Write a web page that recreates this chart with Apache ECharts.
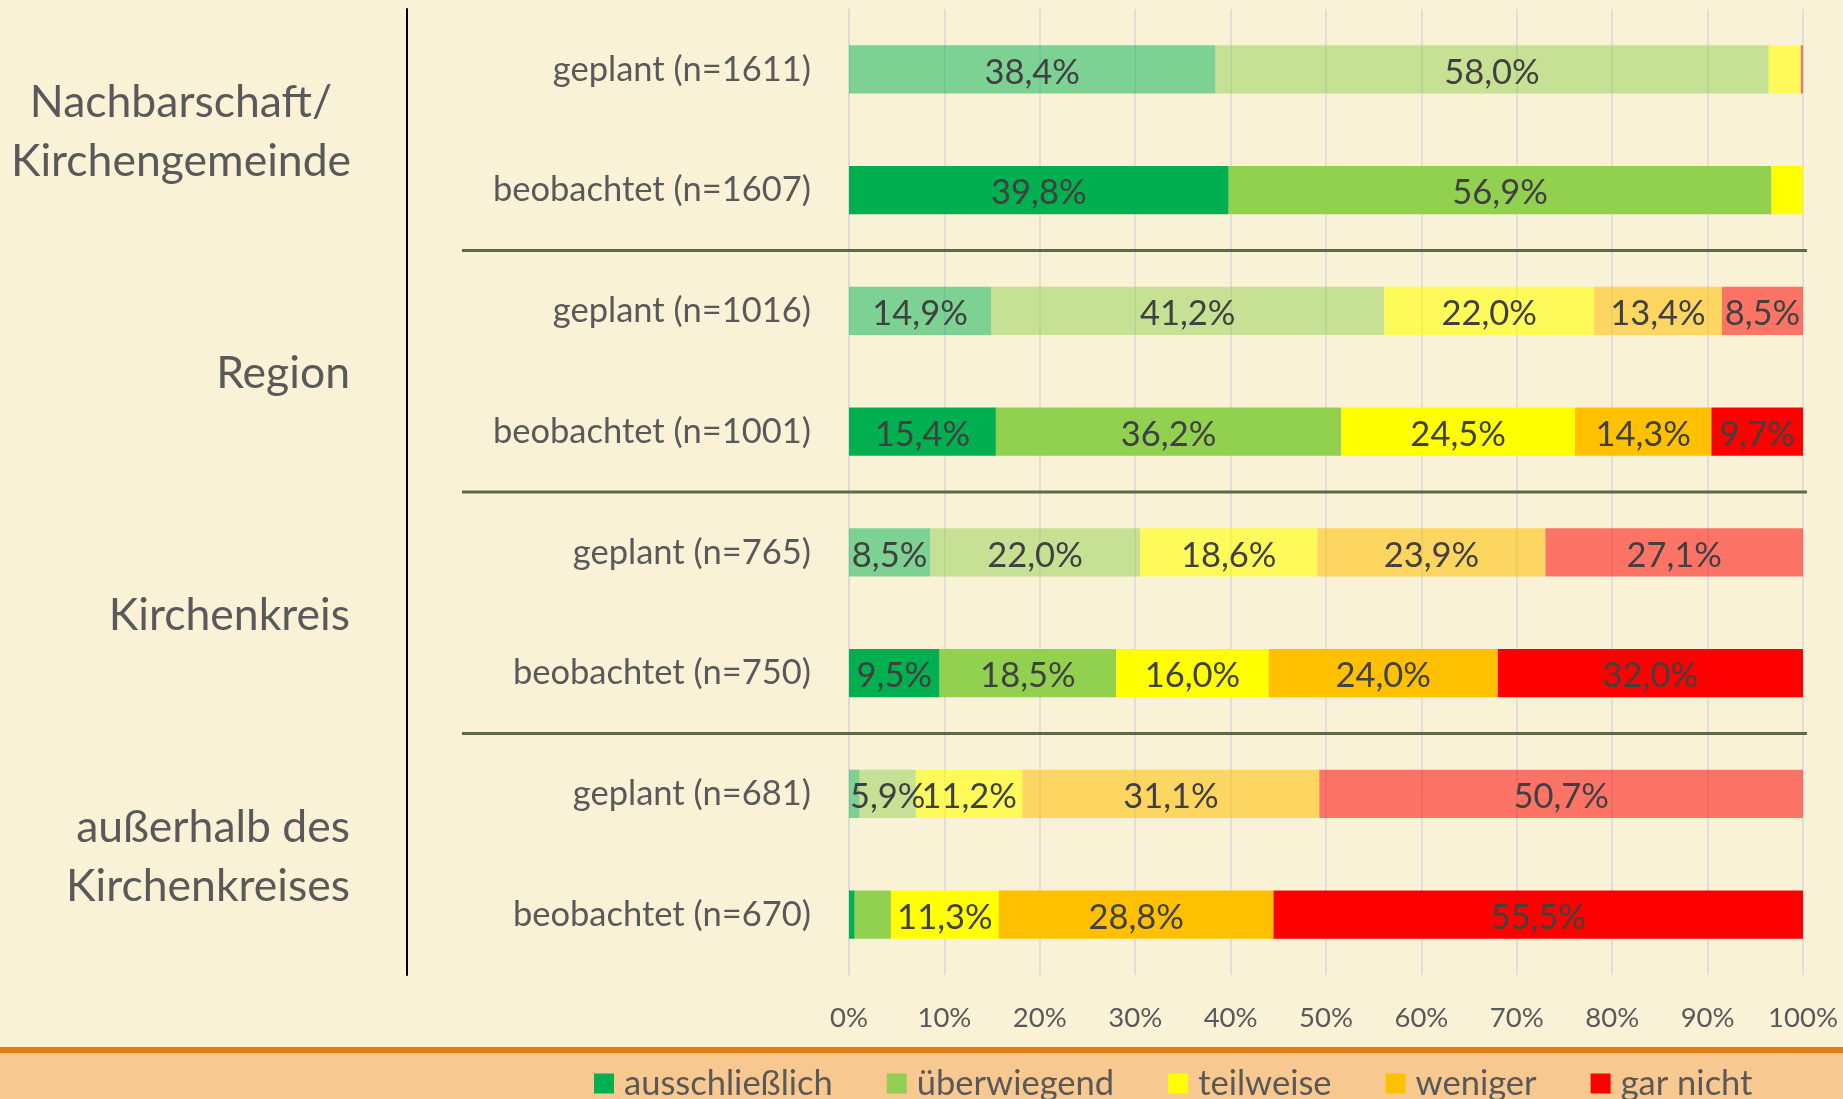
<!DOCTYPE html>
<html>
<head>
<meta charset="utf-8">
<script src="https://cdn.jsdelivr.net/npm/echarts@6/dist/echarts.min.js"></script>
<style>
  html, body { margin: 0; padding: 0; background: #faf2d7; }
  #chart { width: 1843px; height: 1099px; }
</style>
</head>
<body>
<div id="chart"></div>
<script>
var chartDom = document.getElementById('chart');
var myChart = echarts.init(chartDom);

// rows top to bottom, planned / observed alternating
var categories = ['geplant (n=1611)', 'beobachtet (n=1607)', 'geplant (n=1016)', 'beobachtet (n=1001)',
  'geplant (n=765)', 'beobachtet (n=750)', 'geplant (n=681)', 'beobachtet (n=670)'];
var groups = ['Nachbarschaft/\nKirchengemeinde', 'Region', 'Kirchenkreis', 'außerhalb des\nKirchenkreises'];
var planned = [true, false, true, false, true, false, true, false];

var ausschliesslich = [38.4, 39.8, 14.9, 15.4, 8.5, 9.5, 1.1, 0.6];
var ueberwiegend = [58.0, 56.9, 41.2, 36.2, 22.0, 18.5, 5.9, 3.8];
var teilweise = [3.3, 3.3, 22.0, 24.5, 18.6, 16.0, 11.2, 11.3];
var weniger = [0.1, 0, 13.4, 14.3, 23.9, 24.0, 31.1, 28.8];
var garNicht = [0.2, 0, 8.5, 9.7, 27.1, 32.0, 50.7, 55.5];

var xTicks = [0, 10, 20, 30, 40, 50, 60, 70, 80, 90, 100];

var seriesNames = ['ausschließlich', 'überwiegend', 'teilweise', 'weniger', 'gar nicht'];
var seriesValues = [ausschliesslich, ueberwiegend, teilweise, weniger, garNicht];
var colors = ['#00b050', '#92d050', '#ffff00', '#ffc000', '#ff0000'];
var fadedColors = ['rgba(0,176,80,0.5)', 'rgba(146,208,80,0.5)', 'rgba(255,255,0,0.58)',
  'rgba(255,192,0,0.55)', 'rgba(255,0,0,0.52)'];

var font = 'Lato, sans-serif';

function buildSeries() {
  return seriesNames.map(function (name, s) {
    return {
      name: name,
      type: 'bar',
      stack: 'total',
      barWidth: '40%',
      data: seriesValues[s].map(function (v, i) {
        return {
          value: v,
          itemStyle: { color: planned[i] ? fadedColors[s] : colors[s] }
        };
      }),
      label: {
        show: true,
        color: '#404040',
        fontFamily: font,
        fontSize: 34.5,
        offset: [0, 3],
        formatter: function (p) {
          if (p.value < 5) return '';
          return p.value.toFixed(1).replace('.', ',') + '%';
        }
      }
    };
  });
}

var option = {
  backgroundColor: '#faf2d7',
  animation: false,
  color: colors,
  textStyle: { fontFamily: font },
  grid: { left: 849, right: 40, top: 9, bottom: 124, containLabel: false },
  legend: {
    left: 594,
    top: 1066,
    padding: 0,
    itemWidth: 20,
    itemHeight: 20,
    itemGap: 54,
    icon: 'rect',
    selectedMode: false,
    data: seriesNames,
    textStyle: { fontFamily: font, fontSize: 34.5, color: '#595959', padding: [0, 0, 0, 5] }
  },
  xAxis: {
    type: 'value',
    min: xTicks[0],
    max: xTicks[xTicks.length - 1],
    interval: 10,
    axisLine: { show: false },
    axisTick: { show: false },
    splitLine: { lineStyle: { color: '#d9d9d9', width: 1.5 } },
    axisLabel: {
      formatter: '{value}%',
      color: '#595959',
      fontFamily: font,
      fontSize: 27.5,
      margin: 29
    }
  },
  yAxis: [
    {
      type: 'category',
      inverse: true,
      data: categories,
      axisLine: { lineStyle: { color: '#d9d9d9', width: 1.5 } },
      axisTick: { length: 11, lineStyle: { color: '#d9d9d9', width: 1.5 } },
      axisLabel: { color: '#595959', fontFamily: font, fontSize: 34.5, margin: 38, padding: [7, 0, 0, 0] }
    },
    {
      type: 'category',
      inverse: true,
      data: groups,
      position: 'left',
      offset: 442,
      axisLine: { lineStyle: { color: '#000000', width: 2 } },
      axisTick: { show: false },
      axisLabel: {
        margin: 57,
        padding: [5, 0, 0, 0],
        formatter: function (value, index) {
          return (index === 0 ? '{c|' : '{r|') + value + '}';
        },
        rich: {
          c: { width: 338, align: 'center', fontSize: 44.5, lineHeight: 59, color: '#595959', fontFamily: font },
          r: { align: 'right', fontSize: 44.5, lineHeight: 59, color: '#595959', fontFamily: font }
        }
      }
    }
  ],
  series: buildSeries()
};

myChart.setOption(option);

// separators between the four groups + bottom legend band
var bandH = myChart.convertToPixel({ yAxisIndex: 0 }, categories[1]) - myChart.convertToPixel({ yAxisIndex: 0 }, categories[0]);
var sepGraphics = [];
[1, 3, 5].forEach(function (i) {
  var y = myChart.convertToPixel({ yAxisIndex: 0 }, categories[i]) + bandH / 2;
  sepGraphics.push({
    type: 'line',
    z: 5,
    shape: { x1: 462, y1: y, x2: 1807, y2: y },
    style: { stroke: '#5b6b45', lineWidth: 3 }
  });
});
sepGraphics.push({
  type: 'rect',
  z: 0,
  shape: { x: 0, y: 1050, width: 1843, height: 49 },
  style: { fill: '#f7c890' }
});
sepGraphics.push({
  type: 'rect',
  z: 1,
  shape: { x: 0, y: 1047, width: 1843, height: 6 },
  style: { fill: '#e07e12' }
});
myChart.setOption({ graphic: sepGraphics });
</script>
</body>
</html>
